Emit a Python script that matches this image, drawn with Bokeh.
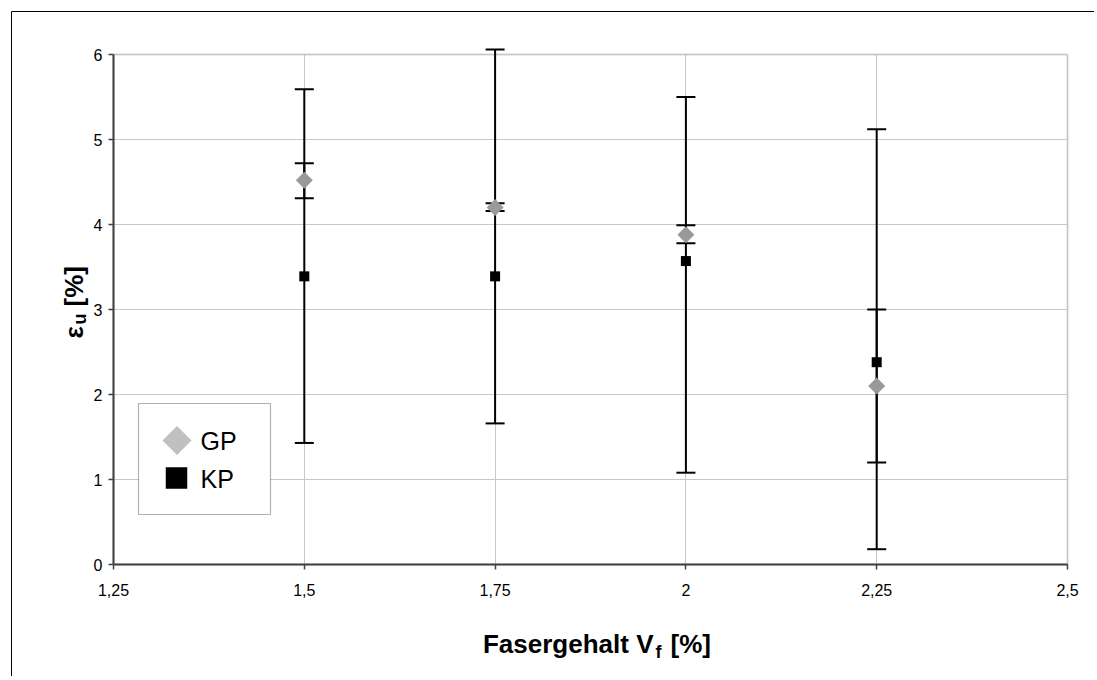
import math
from bokeh.plotting import figure
from bokeh.models import (Range1d, FixedTicker, Whisker, TeeHead, ColumnDataSource,
                          BoxAnnotation, Label)
from bokeh.embed import file_html
from bokeh.resources import INLINE

# ---------------- data ----------------
fasergehalt = [1.5, 1.75, 2.0, 2.25]
gp_mean = [4.52, 4.20, 3.88, 2.10]
gp_lower = [4.31, 4.16, 3.78, 1.20]
gp_upper = [4.72, 4.25, 3.99, 3.00]
kp_mean = [3.39, 3.39, 3.57, 2.38]
kp_lower = [1.43, 1.66, 1.08, 0.18]
kp_upper = [5.59, 6.06, 5.50, 5.12]
x_ticks = [1.25, 1.5, 1.75, 2.0, 2.25, 2.5]
x_tick_labels = ["1,25", "1,5", "1,75", "2", "2,25", "2,5"]
y_ticks = [0, 1, 2, 3, 4, 5, 6]
series_names = ["GP", "KP"]

# ---------------- layout (page pixels) ----------------
W, H = 1094, 676
PAGE = 0
PLOT_LEFT, PLOT_RIGHT = 113, 1067   # page x of first / last x tick
PLOT_BOTTOM, PLOT_TOP = 564, 54     # page y of first / last y tick
X0, X1 = x_ticks[0], x_ticks[-1]
Y0, Y1 = y_ticks[0], y_ticks[-1]
XPU = (PLOT_RIGHT - PLOT_LEFT) / (X1 - X0)
YPU = (PLOT_BOTTOM - PLOT_TOP) / (Y1 - Y0)


def sx(px):
    return X0 + (px - PLOT_LEFT) / XPU


def sy(py):
    return Y0 + (PLOT_BOTTOM - py) / YPU


FONT = "Liberation Sans"

p = figure(width=W, height=H,
           x_range=Range1d(sx(PAGE), sx(PAGE + W)),
           y_range=Range1d(sy(PAGE + H), sy(PAGE)),
           output_backend="svg", toolbar_location=None, min_border=0,
           title_location=None)
p.outline_line_color = None
p.background_fill_color = "white"
p.border_fill_color = "white"

# axes (fixed inside the full-canvas frame)
p.xaxis.fixed_location = Y0
p.yaxis.fixed_location = X0
p.xaxis.ticker = FixedTicker(ticks=x_ticks)
p.xaxis.major_label_overrides = {t: l for t, l in zip(x_ticks, x_tick_labels)}
p.yaxis.ticker = FixedTicker(ticks=y_ticks)
p.xaxis.bounds = (X0, X1)
p.yaxis.bounds = (Y0, Y1)
for ax in (p.xaxis, p.yaxis):
    ax.axis_line_color = "#404040"
    ax.axis_line_width = 2
    ax.major_tick_line_color = "#404040"
    ax.major_tick_line_width = 1.5
    ax.major_tick_in = 0
    ax.major_tick_out = 5
    ax.minor_tick_line_color = None
    ax.major_label_text_font = FONT
    ax.major_label_text_font_size = "16px"
    ax.major_label_text_color = "#000000"
p.xaxis.major_label_standoff = 14
p.yaxis.major_label_standoff = 6

# grid
p.xgrid.ticker = FixedTicker(ticks=x_ticks)
p.ygrid.ticker = FixedTicker(ticks=y_ticks)
for g in (p.xgrid, p.ygrid):
    g.grid_line_color = "#c8c8c8"
    g.grid_line_width = 1

# mask grid outside the plot area
for kw in (dict(right=X0), dict(left=X1), dict(bottom=Y1), dict(top=Y0)):
    p.add_layout(BoxAnnotation(fill_color="white", fill_alpha=1.0, line_color=None,
                               level="underlay", **kw))
# plot area border
p.add_layout(BoxAnnotation(left=X0, right=X1, bottom=Y0, top=Y1, fill_alpha=0.0,
                           line_color="#808080", line_width=2, level="underlay"))

# legend box
p.add_layout(BoxAnnotation(left=sx(138), right=sx(270), top=sy(403), bottom=sy(514),
                           fill_color="white", fill_alpha=1.0, line_color="#000000",
                           line_width=1.2, level="underlay"))

# error bars
src_gp = ColumnDataSource(dict(x=fasergehalt, y=gp_mean, lo=gp_lower, hi=gp_upper))
src_kp = ColumnDataSource(dict(x=fasergehalt, y=kp_mean, lo=kp_lower, hi=kp_upper))
for src in (src_kp, src_gp):
    w = Whisker(source=src, base="x", lower="lo", upper="hi", dimension="height",
                line_color="#000000", line_width=2, level="underlay",
                upper_head=TeeHead(size=19, line_width=2, line_color="#000000"),
                lower_head=TeeHead(size=19, line_width=2, line_color="#000000"))
    p.add_layout(w)

# markers
p.scatter("x", "y", source=src_kp, marker="square", size=10,
          fill_color="#000000", line_color=None)
p.scatter("x", "y", source=src_gp, marker="square", angle=math.pi / 4, size=12,
          fill_color="#999999", line_color=None)

# outer chart border (left and top edges)
p.line(x=[sx(11), sx(11), sx(PAGE + W)], y=[sy(PAGE + H), sy(11), sy(11)],
       line_color="#000000", line_width=1)

# legend entries
p.scatter(x=[sx(176.5)], y=[sy(440)], marker="square", angle=math.pi / 4, size=20.5,
          fill_color="#c0c0c0", line_color=None)
p.scatter(x=[sx(176)], y=[sy(477.5)], marker="square", size=21.5,
          fill_color="#000000", line_color=None)
for name, yy in zip(series_names, (440, 478)):
    p.add_layout(Label(x=sx(200), y=sy(yy), text=name, text_baseline="middle",
                       text_align="left", text_font=FONT, text_font_size="25px",
                       text_color="#000000"))

# x axis title
p.add_layout(Label(x=sx(653), y=sy(643), text="Fasergehalt V", text_align="right",
                   text_baseline="alphabetic", text_font=FONT, text_font_size="26px",
                   text_font_style="bold", text_color="#000000"))
p.add_layout(Label(x=sx(655), y=sy(651), text="f", text_align="left",
                   text_baseline="alphabetic", text_font=FONT, text_font_size="18px",
                   text_font_style="bold", text_color="#000000"))
p.add_layout(Label(x=sx(670), y=sy(643), text="[%]", text_align="left",
                   text_baseline="alphabetic", text_font=FONT, text_font_size="26px",
                   text_font_style="bold", text_color="#000000"))

# y axis title (rotated)
p.add_layout(Label(x=sx(73), y=sy(338), text="ε", angle=math.pi / 2, text_align="left",
                   text_baseline="alphabetic", text_font=FONT, text_font_size="26px",
                   text_font_style="bold", text_color="#000000"))
p.add_layout(Label(x=sx(79), y=sy(324), text="u", angle=math.pi / 2, text_align="left",
                   text_baseline="alphabetic", text_font=FONT, text_font_size="18px",
                   text_font_style="bold", text_color="#000000"))
p.add_layout(Label(x=sx(73), y=sy(306), text="[%]", angle=math.pi / 2, text_align="left",
                   text_baseline="alphabetic", text_font=FONT, text_font_size="26px",
                   text_font_style="bold", text_color="#000000"))

open("out.html", "w").write(file_html(p, INLINE))
